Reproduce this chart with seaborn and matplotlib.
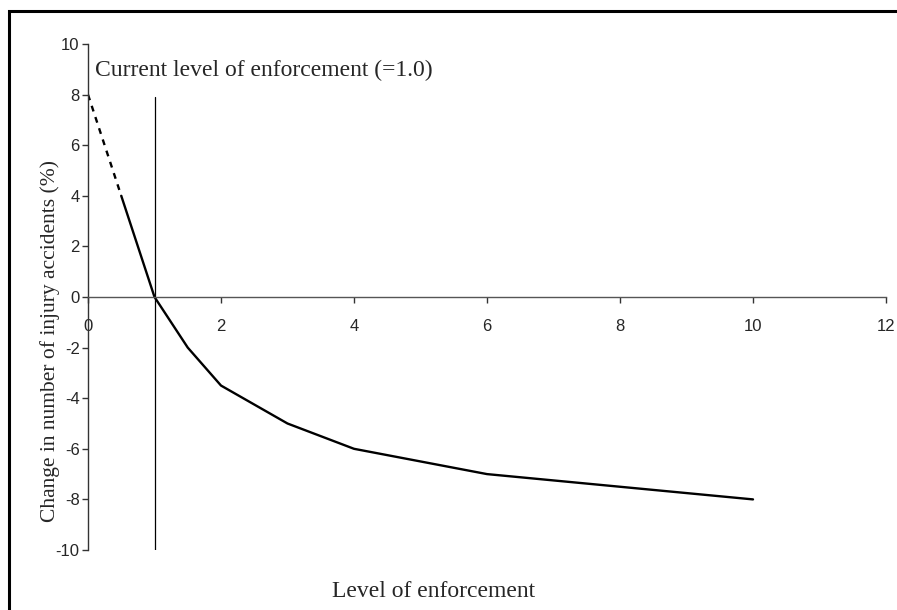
import matplotlib
matplotlib.use("Agg")
import matplotlib.pyplot as plt
import seaborn as sns
import pandas as pd
from matplotlib.patches import Rectangle

# data
level_solid = [0.5, 1, 1.5, 2, 3, 4, 6, 10]
change_solid = [4, 0, -2, -3.5, -5, -6, -7, -8]
level_dashed = [0, 0.5]
change_dashed = [8, 4]
current_level = 1.0
current_line_top = 7.9
x_ticks = [0, 2, 4, 6, 8, 10, 12]
y_ticks = [-10, -8, -6, -4, -2, 0, 2, 4, 6, 8, 10]

solid_df = pd.DataFrame({"level": level_solid, "change": change_solid})
dashed_df = pd.DataFrame({"level": level_dashed, "change": change_dashed})

sns.set_style("white")
plt.rcParams["font.family"] = ["Liberation Sans", "DejaVu Sans"]

fig = plt.figure(figsize=(8.97, 6.10), dpi=100)
ax = fig.add_axes([88 / 897, 1 - 550 / 610, 798 / 897, 506 / 610])

sns.lineplot(data=solid_df, x="level", y="change", color="black", linewidth=1.7, ax=ax)
sns.lineplot(data=dashed_df, x="level", y="change", color="black", linewidth=1.7,
             linestyle=(0, (2.5, 2.5)), ax=ax)
ax.plot([current_level, current_level], [-10, current_line_top], color="black", linewidth=0.9)

ax.set_xlim(0, 12)
ax.set_ylim(-10, 10)
ax.set_xticks(x_ticks)
ax.set_yticks(y_ticks)
ax.set_xlabel("")
ax.set_ylabel("")

for s in ["top", "right"]:
    ax.spines[s].set_visible(False)
ax.spines["bottom"].set_position(("data", 0))
ax.spines["bottom"].set_color("#555555")
ax.spines["left"].set_color("#333333")
ax.spines["bottom"].set_linewidth(1.0)
ax.spines["left"].set_linewidth(1.0)
ax.tick_params(axis="x", bottom=True, direction="out", length=4, width=1.0,
               color="#333333", pad=12, labelsize=12)
ax.tick_params(axis="y", left=True, direction="out", length=4, width=1.0,
               color="#333333", pad=2, labelsize=12)
ax.set_xticklabels([str(t) for t in x_ticks])
ax.set_yticklabels([str(t) for t in y_ticks])

ax.text(0.11, 8.75, "Current level of enforcement (=1.0)", fontsize=17,
        family="Liberation Serif", va="baseline", ha="left")

fig.text(50 / 897, 1 - 341 / 610, "Change in number of injury accidents (%)",
         rotation=90, ha="center", va="center", fontsize=15.5, family="Liberation Serif")
fig.text(434 / 897, 1 - 597 / 610, "Level of enforcement", ha="center", va="baseline",
         fontsize=17, family="Liberation Serif")

# outer frame, only top and left edges are visible
fig.patches.append(Rectangle((9 / 897, -0.1), 1.2, 1 - 11 / 610 + 0.1,
                             transform=fig.transFigure, fill=False,
                             edgecolor="black", linewidth=2.2))

fig.savefig("out.png", dpi=100)
